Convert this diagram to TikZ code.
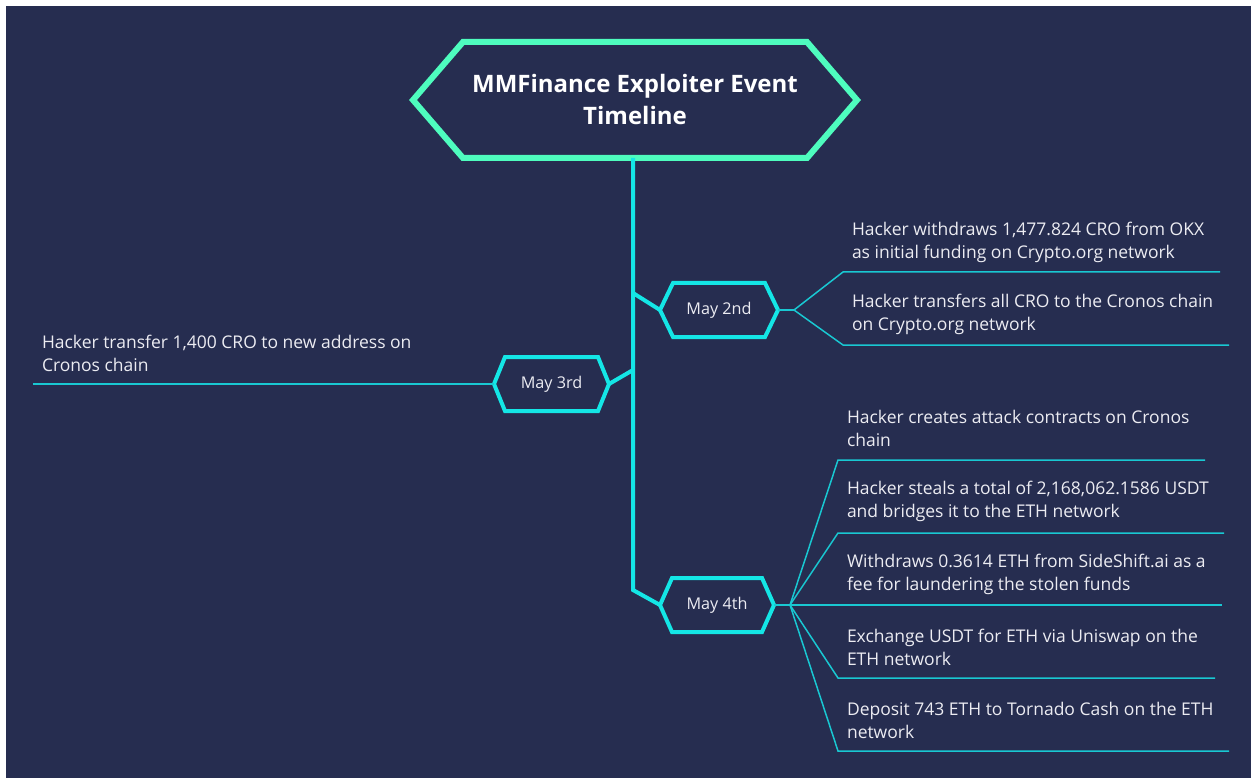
\documentclass[tikz,border=0pt]{standalone}
\usepackage{fontspec}
\setmainfont{Open Sans}
\definecolor{bg}{HTML}{262D50}
\definecolor{mint}{HTML}{4EFCBE}
\definecolor{cyanA}{HTML}{14E6E6}
\definecolor{cyanB}{HTML}{19C8D2}
\definecolor{txtc}{HTML}{ECECF2}
\newcommand\hexof[2]{%
  \draw ([xshift=0pt]#1.west) -- ([xshift=#2]#1.north west) -- ([xshift=-#2]#1.north east)
    -- (#1.east) -- ([xshift=-#2]#1.south east) -- ([xshift=#2]#1.south west) -- cycle;}
\begin{document}
\begin{tikzpicture}[x=1pt,y=-1pt,
  txt/.style={align=left,anchor=west,inner sep=0pt,outer sep=0pt,text=txtc,
    font=\fontsize{17.5}{23}\selectfont},
  datebox/.style={inner sep=0pt,outer sep=0pt,text=txtc,minimum height=54pt,
    font=\fontsize{16.2}{20}\selectfont},
  trunk/.style={cyanA,line width=4pt,line join=miter},
  twig/.style={cyanB,line width=1.5pt,line join=miter}]
\useasboundingbox (0,0) rectangle (1251,778);
\fill[white] (0,0) rectangle (1251,778);
\fill[bg] (6,6) rectangle (1251,778);

% title
\node[inner sep=0pt,outer sep=0pt,minimum width=444pt,minimum height=116pt,align=center,
  text=white,font=\fontsize{24}{32}\selectfont\bfseries] (title) at (635,100)
  {MMFinance Exploiter Event\\Timeline};
\begin{scope}[mint,line width=6pt,line join=miter]
\hexof{title}{50pt}
\end{scope}

% date nodes
\node[datebox,minimum width=118pt] (may2) at (719,310) {May 2nd};
\node[datebox,minimum width=115pt] (may3) at (551.5,384) {May 3rd};
\node[datebox,minimum width=114pt] (may4) at (717,605) {May 4th};
\begin{scope}[cyanA,line width=4pt,line join=miter]
\hexof{may2}{13pt}
\hexof{may3}{11pt}
\hexof{may4}{12pt}
\end{scope}

% trunk
\coordinate (j2) at (633,293);
\coordinate (j3) at (633,370);
\coordinate (jend) at (633,590);
\draw[trunk] (title.south -| jend) -- (jend) -- (may4.west);
\draw[trunk] (j2) -- (may2.west);
\draw[trunk] (j3) -- (may3.east);

% May 2nd branch
\coordinate (b2) at (794,310);
\coordinate (u21s) at (843,272); \coordinate (u21e) at (1220,272);
\coordinate (u22s) at (843,345); \coordinate (u22e) at (1229,345);
\draw[twig] (may2.east) -- (b2);
\draw[twig] (b2) -- (u21s) -- (u21e);
\draw[twig] (b2) -- (u22s) -- (u22e);
\node[txt] (t21) at (852,242.5) {Hacker withdraws 1,477.824 CRO from OKX\\as initial funding on Crypto.org network};
\node[txt] (t22) at (852,314.5) {Hacker transfers all CRO to the Cronos chain\\on Crypto.org network};

% May 3rd branch
\coordinate (u3e) at (33,384);
\draw[twig] (may3.west) -- (u3e);
\node[txt] (t3) at (42,353.5) {Hacker transfer 1,400 CRO to new address on\\Cronos chain};

% May 4th branch
\coordinate (b4) at (790,605);
\coordinate (u41s) at (838,460); \coordinate (u41e) at (1205,460);
\coordinate (u42s) at (838,533); \coordinate (u42e) at (1224,533);
\coordinate (u43e) at (1222,605);
\coordinate (u44s) at (838,678); \coordinate (u44e) at (1215,678);
\coordinate (u45s) at (838,751); \coordinate (u45e) at (1229,751);
\draw[twig] (may4.east) -- (b4);
\draw[twig] (b4) -- (u41s) -- (u41e);
\draw[twig] (b4) -- (u42s) -- (u42e);
\draw[twig] (b4) -- (u43e);
\draw[twig] (b4) -- (u44s) -- (u44e);
\draw[twig] (b4) -- (u45s) -- (u45e);
\node[txt] (t41) at (847,428.5) {Hacker creates attack contracts on Cronos\\chain};
\node[txt] (t42) at (847,501.5) {Hacker steals a total of 2,168,062.1586 USDT\\and bridges it to the ETH network};
\node[txt] (t43) at (847,574.5) {Withdraws 0.3614 ETH from SideShift.ai as a\\fee for laundering the stolen funds};
\node[txt] (t44) at (847,647.5) {Exchange USDT for ETH via Uniswap on the\\ETH network};
\node[txt] (t45) at (847,720.5) {Deposit 743 ETH to Tornado Cash on the ETH\\network};
\end{tikzpicture}
\end{document}
